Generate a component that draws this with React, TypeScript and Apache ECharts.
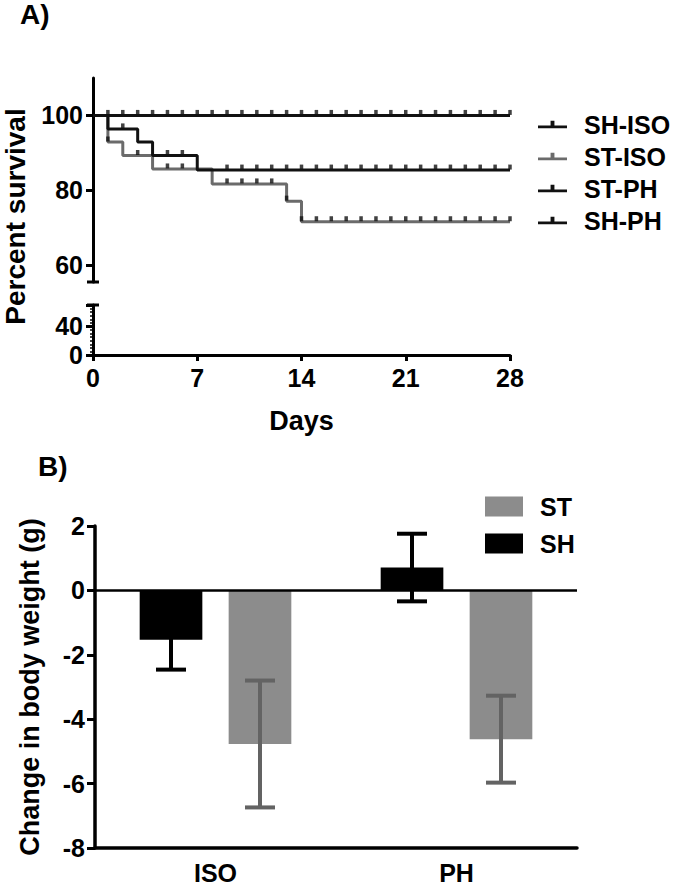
import React, { useEffect, useRef } from 'react';
import * as echarts from 'echarts';

// ---------- Panel A: survival ----------
const SH_ISO_DAYS = [0, 28];
const SH_ISO_SURV = [100, 100];
const SH_PH_DAYS = [0, 28];
const SH_PH_SURV = [100, 100];
const ST_PH_DAYS = [0, 1, 3, 4, 7, 28];
const ST_PH_SURV = [100, 96.4, 92.9, 89.3, 85.4, 85.4];
const ST_ISO_DAYS = [0, 1, 2, 4, 8, 13, 14, 28];
const ST_ISO_SURV = [100, 92.9, 89.3, 85.7, 81.7, 77.1, 71.6, 71.6];

const SH_CENSOR = [
  [1, 100], [2, 100], [3, 100], [4, 100], [5, 100], [6, 100], [7, 100],
  [8, 100], [9, 100], [10, 100], [11, 100], [12, 100], [13, 100], [14, 100],
  [15, 100], [16, 100], [17, 100], [18, 100], [19, 100], [20, 100], [21, 100],
  [22, 100], [23, 100], [24, 100], [25, 100], [26, 100], [27, 100], [28, 100],
];
const ST_PH_CENSOR = [
  [2, 96.4], [5, 89.3], [6, 89.3],
  [9, 85.4], [10, 85.4], [11, 85.4], [12, 85.4], [13, 85.4], [14, 85.4],
  [15, 85.4], [16, 85.4], [17, 85.4], [18, 85.4], [19, 85.4], [20, 85.4],
  [21, 85.4], [22, 85.4], [23, 85.4], [24, 85.4], [25, 85.4], [26, 85.4],
  [27, 85.4], [28, 85.4],
];
const ST_ISO_CENSOR = [
  [1, 92.9], [3, 89.3], [5, 85.7], [6, 85.7],
  [9, 81.7], [10, 81.7], [11, 81.7], [12, 81.7], [13, 77.1], [14, 71.6],
  [15, 71.6], [16, 71.6], [17, 71.6], [18, 71.6], [19, 71.6], [20, 71.6],
  [21, 71.6], [22, 71.6], [23, 71.6], [24, 71.6], [25, 71.6], [26, 71.6],
  [27, 71.6], [28, 71.6],
];

const SURV_LEGEND = ['SH-ISO', 'ST-ISO', 'ST-PH', 'SH-PH'];
const UPPER_TICKS = [60, 80, 100];
const UPPER_MIN = 55.5;
const UPPER_MAX = 110;
const LOWER_MAX = 70;

// ---------- Panel B: body weight ----------
const GROUPS = ['ISO', 'PH'];
const SH_MEAN = [-1.53, 0.71];
const SH_SEM = [0.93, 1.05];
const ST_MEAN = [-4.77, -4.62];
const ST_SEM = [1.97, 1.35];

const FONT = 'Liberation Sans, Arial, sans-serif';
const BLACK = '#111111';
const GRAY_LINE = '#6b6b6b';
const GRAY_BAR = '#8c8c8c';
const GRAY_ERR = '#636363';
const BAR_RATIO = 0.26;
const BAR_GAP = 0.42;

const pairs = (xs: number[], ys: number[]) => xs.map((x, i) => [x, ys[i]]);

const legendIcon = 'path://M0,5H30V8H0Z M13,0H17V5H13Z';

function errRender(dir: number, color: string) {
  return (params: any, api: any) => {
    const idx = api.value(0);
    const mean = api.value(1);
    const err = api.value(2);
    const band = api.size([1, 0])[0];
    const off = (band * BAR_RATIO * (1 + BAR_GAP)) / 2;
    const cx = api.coord([idx, mean])[0] + dir * off;
    const yTop = api.coord([idx, mean + err])[1];
    const yBot = api.coord([idx, mean - err])[1];
    const hw = 15;
    const st = { stroke: color, lineWidth: 4 };
    return {
      type: 'group',
      children: [
        { type: 'line', shape: { x1: cx, y1: yTop, x2: cx, y2: yBot }, style: st },
        { type: 'line', shape: { x1: cx - hw, y1: yTop, x2: cx + hw, y2: yTop }, style: st },
        { type: 'line', shape: { x1: cx - hw, y1: yBot, x2: cx + hw, y2: yBot }, style: st },
      ],
    };
  };
}

const axisLabelStyle = { color: '#000', fontFamily: FONT, fontWeight: 'bold' as const, fontSize: 25 };

const option: any = {
  animation: false,
  backgroundColor: '#fff',
  grid: [
    { left: 93, right: 165, top: 78, height: 204 },
    { left: 93, right: 165, top: 305, height: 50 },
    { left: 95, right: 98, top: 526, height: 322 },
  ],
  xAxis: [
    { gridIndex: 0, type: 'value', min: 0, max: 28, interval: 7, show: false },
    {
      gridIndex: 1, type: 'value', min: 0, max: 28, interval: 7,
      axisLine: { lineStyle: { color: '#000', width: 3 } },
      axisTick: { length: 6, lineStyle: { color: '#000', width: 3 } },
      axisLabel: { ...axisLabelStyle, margin: 10 },
      splitLine: { show: false },
      name: 'Days', nameLocation: 'middle', nameGap: 52,
      nameTextStyle: { color: '#000', fontFamily: FONT, fontWeight: 'bold', fontSize: 27 },
    },
    {
      gridIndex: 2, type: 'category', data: GROUPS,
      axisLine: { onZero: false, lineStyle: { color: '#000', width: 3.5 } },
      axisTick: { alignWithLabel: true, length: 8, lineStyle: { color: '#000', width: 3 } },
      axisLabel: { ...axisLabelStyle, margin: 12 },
    },
  ],
  yAxis: [
    {
      gridIndex: 0, type: 'value', min: UPPER_MIN, max: UPPER_MAX,
      axisLine: { show: true, lineStyle: { color: '#000', width: 3 } },
      axisTick: { show: true, length: 7, customValues: UPPER_TICKS, lineStyle: { color: '#000', width: 3 } },
      axisLabel: { ...axisLabelStyle, margin: 10, customValues: UPPER_TICKS },
      splitLine: { show: false },
    },
    {
      gridIndex: 1, type: 'value', min: 0, max: LOWER_MAX, interval: 40,
      axisLine: { show: true, lineStyle: { color: '#000', width: 3 } },
      axisTick: { show: true, length: 7, lineStyle: { color: '#000', width: 3 } },
      minorTick: { show: true, splitNumber: 8, length: 3, lineStyle: { color: '#000', width: 1.5 } },
      axisLabel: { ...axisLabelStyle, margin: 10 },
      splitLine: { show: false },
    },
    {
      gridIndex: 2, type: 'value', min: -8, max: 2, interval: 2,
      axisLine: { show: true, lineStyle: { color: '#000', width: 3.5 } },
      axisTick: { show: true, length: 8, lineStyle: { color: '#000', width: 3 } },
      axisLabel: { ...axisLabelStyle, margin: 10 },
      splitLine: { show: false },
      name: 'Change in body weight (g)', nameLocation: 'middle', nameGap: 52,
      nameTextStyle: { color: '#000', fontFamily: FONT, fontWeight: 'bold', fontSize: 27 },
    },
  ],
  legend: [
    {
      data: SURV_LEGEND.map((n) => ({ name: n, icon: legendIcon })),
      orient: 'vertical', left: 538, top: 112, itemWidth: 29, itemHeight: 10, itemGap: 7, padding: 0,
      selectedMode: false,
      textStyle: { color: '#000', fontFamily: FONT, fontWeight: 'bold', fontSize: 25, padding: [0, 0, 0, 12] },
    },
    {
      data: ['ST', 'SH'], icon: 'rect',
      orient: 'vertical', left: 485, top: 494, itemWidth: 38, itemHeight: 20, itemGap: 12, padding: 0,
      selectedMode: false,
      textStyle: { color: '#000', fontFamily: FONT, fontWeight: 'bold', fontSize: 25, padding: [0, 0, 0, 12] },
    },
  ],
  series: [
    {
      name: 'ST-ISO', type: 'line', step: 'end', xAxisIndex: 0, yAxisIndex: 0,
      data: pairs(ST_ISO_DAYS, ST_ISO_SURV), showSymbol: false, symbol: 'none',
      color: GRAY_LINE, lineStyle: { color: GRAY_LINE, width: 3 }, z: 2,
    },
    {
      name: 'ST-PH', type: 'line', step: 'end', xAxisIndex: 0, yAxisIndex: 0,
      data: pairs(ST_PH_DAYS, ST_PH_SURV), showSymbol: false, symbol: 'none',
      color: BLACK, lineStyle: { color: BLACK, width: 3 }, z: 3,
    },
    {
      name: 'SH-PH', type: 'line', step: 'end', xAxisIndex: 0, yAxisIndex: 0,
      data: pairs(SH_PH_DAYS, SH_PH_SURV), showSymbol: false, symbol: 'none',
      color: BLACK, lineStyle: { color: BLACK, width: 3 }, z: 3,
    },
    {
      name: 'SH-ISO', type: 'line', step: 'end', xAxisIndex: 0, yAxisIndex: 0,
      data: pairs(SH_ISO_DAYS, SH_ISO_SURV), showSymbol: false, symbol: 'none',
      color: BLACK, lineStyle: { color: BLACK, width: 3 }, z: 3,
    },
    {
      name: 'SH censored', type: 'scatter', xAxisIndex: 0, yAxisIndex: 0, data: SH_CENSOR,
      symbol: 'rect', symbolSize: [3.5, 5], symbolOffset: [0, -3], itemStyle: { color: BLACK }, z: 4,
    },
    {
      name: 'ST-PH censored', type: 'scatter', xAxisIndex: 0, yAxisIndex: 0, data: ST_PH_CENSOR,
      symbol: 'rect', symbolSize: [3.5, 5], symbolOffset: [0, -3], itemStyle: { color: BLACK }, z: 4,
    },
    {
      name: 'ST-ISO censored', type: 'scatter', xAxisIndex: 0, yAxisIndex: 0, data: ST_ISO_CENSOR,
      symbol: 'rect', symbolSize: [3.5, 5], symbolOffset: [0, -3], itemStyle: { color: BLACK }, z: 4,
    },
    {
      name: 'SH', type: 'bar', xAxisIndex: 2, yAxisIndex: 2, data: SH_MEAN,
      barWidth: `${BAR_RATIO * 100}%`, barGap: `${BAR_GAP * 100}%`,
      itemStyle: { color: '#000' }, color: '#000',
      markLine: {
        silent: true, symbol: 'none', label: { show: false },
        lineStyle: { color: '#000', width: 2.5, type: 'solid' },
        data: [{ yAxis: 0 }],
      },
    },
    {
      name: 'ST', type: 'bar', xAxisIndex: 2, yAxisIndex: 2, data: ST_MEAN,
      barWidth: `${BAR_RATIO * 100}%`, barGap: `${BAR_GAP * 100}%`,
      itemStyle: { color: GRAY_BAR }, color: GRAY_BAR,
    },
    {
      name: 'SH err', type: 'custom', xAxisIndex: 2, yAxisIndex: 2,
      data: SH_MEAN.map((m, i) => [i, m, SH_SEM[i]]),
      renderItem: errRender(-1, '#000'), z: 5, silent: true,
    },
    {
      name: 'ST err', type: 'custom', xAxisIndex: 2, yAxisIndex: 2,
      data: ST_MEAN.map((m, i) => [i, m, ST_SEM[i]]),
      renderItem: errRender(1, GRAY_ERR), z: 5, silent: true,
    },
  ],
};

export default function App() {
  const ref = useRef<HTMLDivElement>(null);
  useEffect(() => {
    const chart = echarts.init(ref.current!, null, { renderer: 'svg' });
    chart.setOption(option);
    const p0 = chart.convertToPixel({ gridIndex: 0 }, [0, UPPER_MIN]) as number[];
    const p1 = chart.convertToPixel({ gridIndex: 1 }, [0, LOWER_MAX]) as number[];
    const pTop = chart.convertToPixel({ gridIndex: 0 }, [0, UPPER_MAX]) as number[];
    const pBot = chart.convertToPixel({ gridIndex: 1 }, [0, 0]) as number[];
    const capStyle = { stroke: '#000', lineWidth: 3 };
    chart.setOption({
      graphic: [
        { type: 'line', shape: { x1: p0[0] - 6, y1: p0[1], x2: p0[0] + 6, y2: p0[1] }, style: capStyle },
        { type: 'line', shape: { x1: p1[0] - 6, y1: p1[1], x2: p1[0] + 6, y2: p1[1] }, style: capStyle },
        {
          type: 'text', left: 20, top: 0,
          style: { text: 'A)', fill: '#000', font: `bold 28px ${FONT}` },
        },
        {
          type: 'text', left: 38, top: 452,
          style: { text: 'B)', fill: '#000', font: `bold 28px ${FONT}` },
        },
        {
          type: 'text', x: 15, y: (pTop[1] + pBot[1]) / 2, rotation: Math.PI / 2,
          style: {
            text: 'Percent survival', fill: '#000', font: `bold 28px ${FONT}`,
            align: 'center', verticalAlign: 'middle',
          },
        },
      ],
    });
    return () => chart.dispose();
  }, []);
  return (
    <div
      ref={ref}
      style={{ position: 'absolute', left: 0, top: 0, width: 675, height: 886, background: '#fff' }}
    />
  );
}
